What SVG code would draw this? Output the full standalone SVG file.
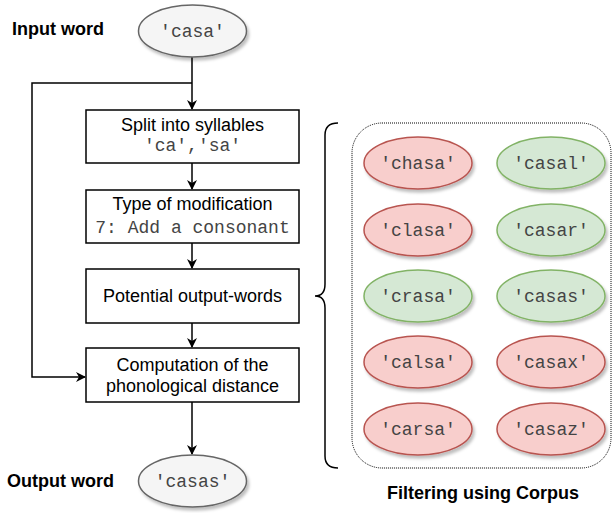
<svg xmlns="http://www.w3.org/2000/svg" width="614" height="513" viewBox="0 0 614 513">
<style>
.box{fill:#fff;stroke:#000;stroke-width:1.5}
.lbl{font-family:"Liberation Sans",Arial,sans-serif;font-size:18px;fill:#000;text-anchor:middle}
.bold{font-family:"Liberation Sans",Arial,sans-serif;font-size:18px;font-weight:bold;fill:#000}
.mono{font-family:"Liberation Mono","Courier New",monospace;font-size:18px;fill:#444;text-anchor:middle}
.grey{fill:#f5f5f5;stroke:#666;stroke-width:1.5}
.red{fill:#f8cecc;stroke:#b85450;stroke-width:1.5}
.green{fill:#d5e8d4;stroke:#82b366;stroke-width:1.5}
.edge{fill:none;stroke:#000;stroke-width:1.5}
</style>
<defs>
<marker id="arr" viewBox="0 0 10 10" refX="9" refY="5" markerWidth="10" markerHeight="10" markerUnits="userSpaceOnUse" orient="auto">
<path d="M0,0 L10,5 L0,10 L3,5 Z" fill="#000"/>
</marker>
<filter id="sh" x="-20%" y="-20%" width="150%" height="160%">
<feDropShadow dx="2" dy="3" stdDeviation="1.5" flood-color="#000" flood-opacity="0.25"/>
</filter>
</defs>
<rect width="614" height="513" fill="#fff"/>

<g id="connectors">
<path class="edge" d="M192,57 V109" marker-end="url(#arr)"/>
<path class="edge" d="M192,83 H32 V377 H85" marker-end="url(#arr)"/>
<path class="edge" d="M192,163 V189" marker-end="url(#arr)"/>
<path class="edge" d="M192,243 V268" marker-end="url(#arr)"/>
<path class="edge" d="M192,323 V347" marker-end="url(#arr)"/>
<path class="edge" d="M192,402 V454" marker-end="url(#arr)"/>
</g>

<g id="input-label"><text class="bold" x="12" y="35">Input word</text></g>
<g id="input-word">
<ellipse class="grey" cx="192.5" cy="31" rx="54" ry="26" filter="url(#sh)"/>
<text class="mono" x="192.5" y="37">'casa'</text>
</g>

<g id="split">
<rect class="box" x="86" y="110" width="213" height="53"/>
<text class="lbl" x="192.5" y="131">Split into syllables</text>
<text class="mono" x="192.5" y="151">'ca','sa'</text>
</g>
<g id="modification">
<rect class="box" x="86" y="190" width="213" height="53"/>
<text class="lbl" x="192.5" y="210">Type of modification</text>
<text class="mono" x="192.5" y="233">7: Add a consonant</text>
</g>
<g id="potential">
<rect class="box" x="86" y="269" width="213" height="54"/>
<text class="lbl" x="192.5" y="302">Potential output-words</text>
</g>
<g id="computation">
<rect class="box" x="86" y="348" width="213" height="54"/>
<text class="lbl" x="192.5" y="371">Computation of the</text>
<text class="lbl" x="192.5" y="392">phonological distance</text>
</g>

<g id="output-label"><text class="bold" x="7" y="487">Output word</text></g>
<g id="output-word">
<ellipse class="grey" cx="192.5" cy="481" rx="54" ry="26" filter="url(#sh)"/>
<text class="mono" x="192.5" y="487">'casas'</text>
</g>

<g id="brace">
<path class="edge" d="M338,123 Q325,123 325,135 V284 Q325,296 315,296 Q325,296 325,308 V456 Q325,468 338,468"/>
</g>

<g id="corpus">
<rect x="352" y="123" width="259" height="345" rx="30" ry="30" fill="none" stroke="#000" stroke-width="1" stroke-dasharray="1 1"/>
</g>

<g id="chasa"><ellipse class="red" cx="418" cy="163" rx="54" ry="26" filter="url(#sh)"/><text class="mono" x="418" y="169">'chasa'</text></g>
<g id="casal"><ellipse class="green" cx="551" cy="163" rx="54" ry="26" filter="url(#sh)"/><text class="mono" x="551" y="169">'casal'</text></g>
<g id="clasa"><ellipse class="red" cx="418" cy="230" rx="54" ry="26" filter="url(#sh)"/><text class="mono" x="418" y="236">'clasa'</text></g>
<g id="casar"><ellipse class="green" cx="551" cy="230" rx="54" ry="26" filter="url(#sh)"/><text class="mono" x="551" y="236">'casar'</text></g>
<g id="crasa"><ellipse class="green" cx="418" cy="296" rx="54" ry="26" filter="url(#sh)"/><text class="mono" x="418" y="302">'crasa'</text></g>
<g id="casas"><ellipse class="green" cx="551" cy="296" rx="54" ry="26" filter="url(#sh)"/><text class="mono" x="551" y="302">'casas'</text></g>
<g id="calsa"><ellipse class="red" cx="418" cy="362" rx="54" ry="26" filter="url(#sh)"/><text class="mono" x="418" y="368">'calsa'</text></g>
<g id="casax"><ellipse class="red" cx="551" cy="362" rx="54" ry="26" filter="url(#sh)"/><text class="mono" x="551" y="368">'casax'</text></g>
<g id="carsa"><ellipse class="red" cx="418" cy="429" rx="54" ry="26" filter="url(#sh)"/><text class="mono" x="418" y="435">'carsa'</text></g>
<g id="casaz"><ellipse class="red" cx="551" cy="429" rx="54" ry="26" filter="url(#sh)"/><text class="mono" x="551" y="435">'casaz'</text></g>

<g id="corpus-label"><text class="bold" x="483" y="499" text-anchor="middle">Filtering using Corpus</text></g>
</svg>
